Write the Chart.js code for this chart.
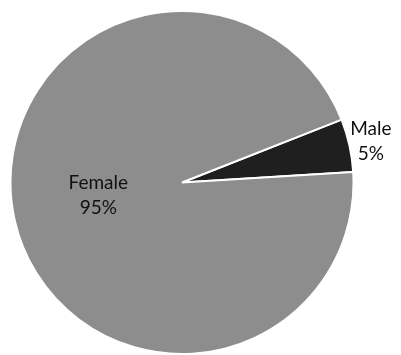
<!DOCTYPE html>
<html>
<head>
<meta charset="utf-8">
<script src="https://cdn.jsdelivr.net/npm/chart.js@4/dist/chart.umd.min.js"></script>
<style>
  html, body { margin: 0; padding: 0; background: #ffffff; }
  #wrap { width: 401px; height: 355px; }
</style>
</head>
<body>
<div id="wrap"><canvas id="c" width="401" height="355"></canvas></div>
<script>
// Gender split of respondents
const categories = ['Male', 'Female'];
const shares = [5, 95];
const sliceColors = ['#1f1f1f', '#8d8d8d'];

// Draws "Name / NN%" labels: outside for the small slice, inside for the large one
const sliceLabels = {
  id: 'sliceLabels',
  afterDatasetsDraw(chart) {
    const ctx = chart.ctx;
    const meta = chart.getDatasetMeta(0);
    ctx.save();
    ctx.font = '19px Lato, "Open Sans", sans-serif';
    ctx.fillStyle = '#111111';
    ctx.textAlign = 'center';
    ctx.textBaseline = 'middle';
    meta.data.forEach((arc, i) => {
      const p = arc.getProps(['x', 'y', 'startAngle', 'endAngle', 'outerRadius'], true);
      const mid = (p.startAngle + p.endAngle) / 2;
      const small = shares[i] < 10;
      const dist = small ? p.outerRadius + 22 : p.outerRadius * 0.5;
      const cx = p.x + Math.cos(mid) * dist;
      const cy = p.y + Math.sin(mid) * dist - (small ? 0 : 6);
      ctx.fillText(categories[i], cx, cy - 12);
      ctx.fillText(shares[i] + '%', cx, cy + 13);
    });
    ctx.restore();
  }
};

new Chart(document.getElementById('c'), {
  type: 'pie',
  data: {
    labels: categories,
    datasets: [{
      data: shares,
      backgroundColor: sliceColors,
      borderColor: '#ffffff',
      borderWidth: 2
    }]
  },
  options: {
    responsive: false,
    animation: false,
    rotation: 68.5,
    layout: { padding: { left: 9, right: 46, top: 10, bottom: 0 } },
    plugins: {
      legend: { display: false },
      tooltip: { enabled: false }
    }
  },
  plugins: [sliceLabels]
});
</script>
</body>
</html>
